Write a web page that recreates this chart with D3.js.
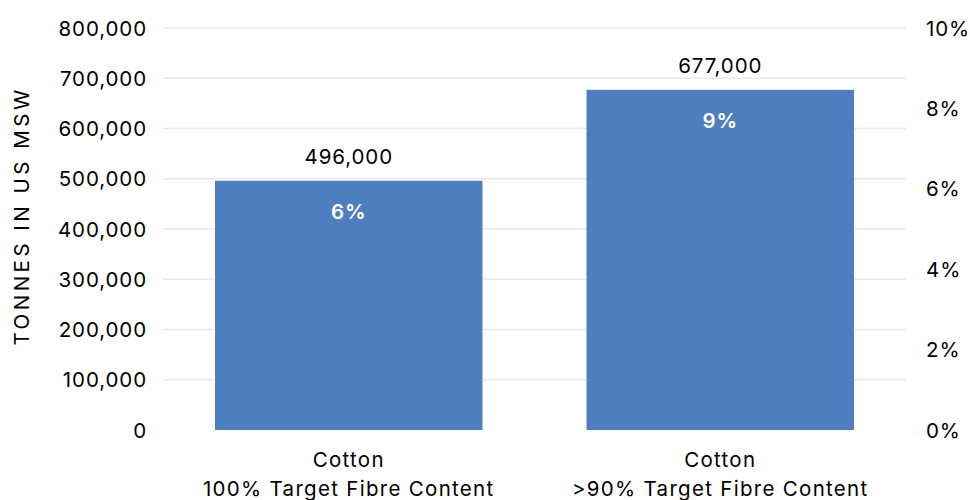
<!DOCTYPE html>
<html>
<head>
<meta charset="utf-8">
<script src="https://cdn.jsdelivr.net/npm/d3@7"></script>
<style>
  body { margin: 0; background: #fff; }
  text { font-family: Inter, "Open Sans", sans-serif; fill: #000; }
</style>
</head>
<body>
<div id="container"></div>
<script>
/* DATA */
const categories = [["Cotton", "100% Target Fibre Content"], ["Cotton", ">90% Target Fibre Content"]];
const tonnes = [496000, 677000];
const shares = ["6%", "9%"];
const leftTicks = [0, 100000, 200000, 300000, 400000, 500000, 600000, 700000, 800000];
const rightTicks = [0, 0.02, 0.04, 0.06, 0.08, 0.10];

/* CONSTANTS */
const width = 970, height = 500;
const margin = {top: 28, right: 64, bottom: 70, left: 163};
const fs = "20.5px", ls = "0.9px";

const svg = d3.select("#container")
  .append("svg")
  .attr("width", width)
  .attr("height", height);

// SCALES
const x = d3.scaleBand()
  .domain(d3.range(categories.length))
  .range([margin.left, width - margin.right])
  .paddingInner(0.28)
  .paddingOuter(0.14);

const y = d3.scaleLinear()
  .domain([0, 800000])
  .range([height - margin.bottom, margin.top]);

const y2 = d3.scaleLinear()
  .domain([0, 0.10])
  .range([height - margin.bottom, margin.top]);

// gridlines
svg.append("g")
  .selectAll("line")
  .data(leftTicks.slice(1))
  .join("line")
  .attr("x1", margin.left)
  .attr("x2", width - margin.right)
  .attr("y1", d => y(d))
  .attr("y2", d => y(d))
  .attr("stroke", "#e8e8e8")
  .attr("stroke-width", 1.5);

// left axis
const yAxis = svg.append("g")
  .attr("transform", `translate(${margin.left - 13},0)`)
  .call(d3.axisLeft(y).tickValues(leftTicks).tickSize(0).tickFormat(d3.format(",")));
yAxis.select(".domain").remove();
yAxis.selectAll("text").style("font-size", fs).style("letter-spacing", ls).attr("dy", "0.35em");

// right axis
const y2Axis = svg.append("g")
  .attr("transform", `translate(${width - margin.right + 17},0)`)
  .call(d3.axisRight(y2).tickValues(rightTicks).tickSize(0).tickFormat(d3.format(".0%")));
y2Axis.select(".domain").remove();
y2Axis.selectAll("text").style("font-size", fs).style("letter-spacing", ls).attr("dy", "0.35em");

// bars
svg.append("g")
  .selectAll("rect")
  .data(tonnes)
  .join("rect")
  .attr("x", (d, i) => x(i))
  .attr("y", d => y(d))
  .attr("width", x.bandwidth())
  .attr("height", d => y(0) - y(d))
  .attr("fill", "#4f7ec0");

// value labels
svg.append("g")
  .selectAll("text")
  .data(tonnes)
  .join("text")
  .attr("x", (d, i) => x(i) + x.bandwidth() / 2)
  .attr("y", d => y(d) - 24)
  .attr("text-anchor", "middle")
  .attr("dy", "0.35em")
  .style("font-size", fs)
  .style("letter-spacing", ls)
  .text(d => d3.format(",")(d));

// share labels inside bars
svg.append("g")
  .selectAll("text")
  .data(shares)
  .join("text")
  .attr("x", (d, i) => x(i) + x.bandwidth() / 2)
  .attr("y", (d, i) => y(tonnes[i]) + 31)
  .attr("text-anchor", "middle")
  .attr("dy", "0.35em")
  .style("font-size", fs)
  .style("letter-spacing", ls)
  .style("font-weight", "600")
  .style("fill", "#fff")
  .text(d => d);

// category labels
const cat = svg.append("g")
  .selectAll("text")
  .data(categories)
  .join("text")
  .attr("x", (d, i) => x(i) + x.bandwidth() / 2)
  .attr("y", 460)
  .attr("text-anchor", "middle")
  .style("font-size", fs)
  .style("letter-spacing", "1.3px");
cat.selectAll("tspan")
  .data(d => d)
  .join("tspan")
  .attr("x", function () { return this.parentNode.getAttribute("x"); })
  .attr("dy", (d, i) => i === 0 ? "0.35em" : "29px")
  .text(d => d);

// y axis title
svg.append("text")
  .attr("transform", `translate(22,216) rotate(-90)`)
  .attr("text-anchor", "middle")
  .attr("dy", "0.35em")
  .style("font-size", fs)
  .style("letter-spacing", "3.5px")
  .text("TONNES IN US MSW");
</script>
</body>
</html>
